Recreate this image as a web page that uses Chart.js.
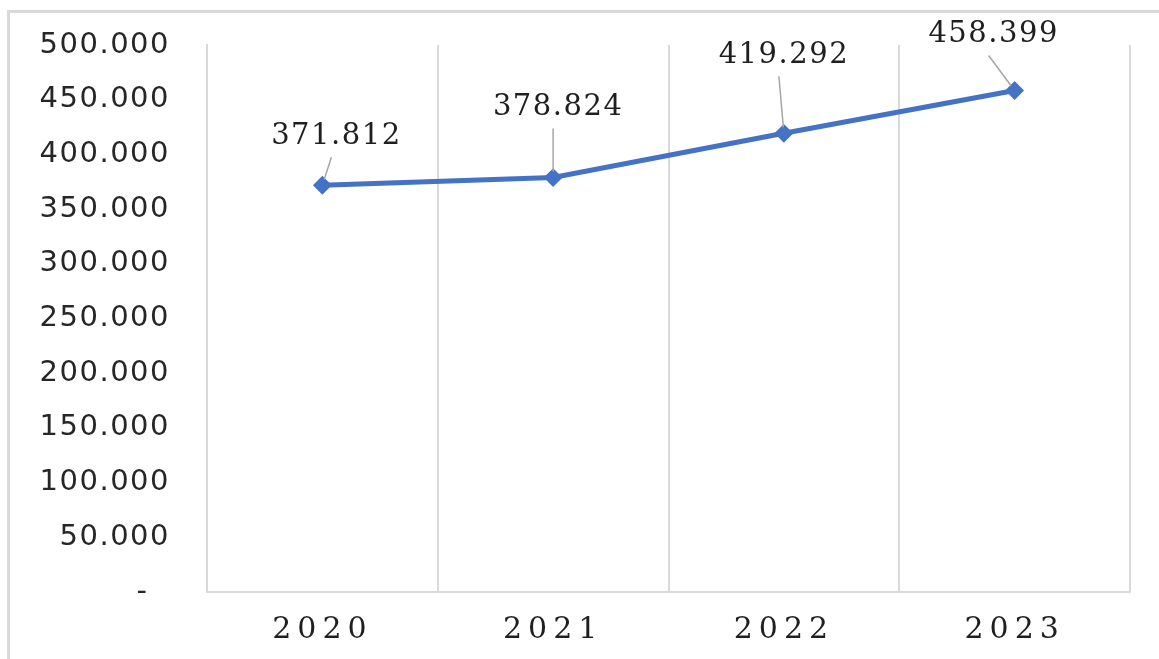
<!DOCTYPE html>
<html>
<head>
<meta charset="utf-8">
<script src="https://cdn.jsdelivr.net/npm/chart.js@4.4.0/dist/chart.umd.min.js"></script>
<style>
  html, body { margin: 0; padding: 0; background: #fff; overflow: hidden; }
  #wrap { position: relative; width: 1159px; height: 659px; }
  #frame { position: absolute; left: 7px; top: 10px; width: 1200px; height: 700px;
           border-left: 3px solid #d9d9d9; border-top: 3px solid #d9d9d9; }
  canvas { position: absolute; left: 0; top: 0; }
</style>
</head>
<body>
<div id="wrap">
  <div id="frame"></div>
  <canvas id="chart" width="1159" height="659"></canvas>
</div>
<script>
// Data for the chart
const years = ['2020', '2021', '2022', '2023'];
const values = [371812, 378824, 419292, 458399];
const yTicks = [0, 50000, 100000, 150000, 200000, 250000, 300000, 350000, 400000, 450000, 500000];

// where each data label sits, relative to its point (Excel moved them by hand)
const labelShift = [[14, -49], [5, -70], [0, -78], [-21, -56]];

// 371812 -> "371.812"
function fmt(v) {
  return String(v).replace(/\B(?=(\d{3})+(?!\d))/g, '.');
}

// spread the letters of the axis labels a bit
const spacingPlugin = {
  id: 'spacing',
  beforeDraw(chart) {
    [['x', '6px'], ['y', '1.5px']].forEach(([id, gap]) => {
      const s = chart.scales[id];
      if (s._spaced) return;
      const orig = s.drawLabels;
      s.drawLabels = function (area) {
        this.ctx.save();
        this.ctx.letterSpacing = gap;
        orig.call(this, area);
        this.ctx.restore();
      };
      s._spaced = true;
    });
  }
};

// value labels with their grey leader lines
const labelPlugin = {
  id: 'valueLabels',
  afterDatasetsDraw(chart) {
    const ctx = chart.ctx;
    const meta = chart.getDatasetMeta(0);
    ctx.save();
    meta.data.forEach((pt, i) => {
      const lx = pt.x + labelShift[i][0];
      const ly = pt.y + labelShift[i][1];
      // leader line
      const sx = lx - 5, sy = ly + 21;
      const dx = pt.x - sx, dy = pt.y - sy;
      const len = Math.sqrt(dx * dx + dy * dy);
      ctx.strokeStyle = '#a6a6a6';
      ctx.lineWidth = 1.5;
      ctx.beginPath();
      ctx.moveTo(sx, sy);
      ctx.lineTo(pt.x - dx / len * 6, pt.y - dy / len * 6);
      ctx.stroke();
      // text
      ctx.letterSpacing = '1.5px';
      ctx.font = '29px "DejaVu Serif"';
      ctx.fillStyle = '#1f1f1f';
      ctx.textAlign = 'center';
      ctx.textBaseline = 'middle';
      ctx.fillText(fmt(values[i]), lx, ly);
      ctx.letterSpacing = '0px';
    });
    ctx.restore();
  }
};

new Chart(document.getElementById('chart'), {
  type: 'line',
  data: {
    labels: years,
    datasets: [{
      data: values,
      borderColor: '#4472c4',
      backgroundColor: '#4472c4',
      borderWidth: 5,
      pointStyle: 'rectRot',
      pointRadius: 8,
      pointBorderWidth: 2,
      pointBorderColor: '#4472c4',
      pointBackgroundColor: '#4472c4',
      tension: 0,
      fill: false
    }]
  },
  options: {
    responsive: false,
    animation: false,
    layout: { padding: { top: 45, right: 29, left: 0, bottom: 0 } },
    plugins: {
      legend: { display: false },
      tooltip: { enabled: false }
    },
    scales: {
      x: {
        offset: true,
        grid: { offset: true, color: '#d9d9d9', lineWidth: 2, drawTicks: false },
        border: { display: true, color: '#d9d9d9', width: 2 },
        ticks: {
          color: '#1f1f1f',
          font: { family: '"DejaVu Serif"', size: 30 },
          padding: 20
        },
        afterFit(scale) {
          scale.height = 67;
          scale.paddingLeft = 0;
          scale.paddingRight = 0;
        }
      },
      y: {
        min: 0,
        max: 500000,
        afterBuildTicks(scale) { scale.ticks = yTicks.map(v => ({ value: v })); },
        grid: { display: false, drawTicks: false },
        border: { display: true, color: '#d9d9d9', width: 2 },
        ticks: {
          color: '#262626',
          font: { family: '"DejaVu Sans"', size: 29 },
          padding: 37,
          callback: v => v === 0 ? '-  ' : fmt(v)
        },
        afterFit(scale) {
          scale.width = 207;
          scale.paddingTop = 0;
          scale.paddingBottom = 0;
        }
      }
    }
  },
  plugins: [spacingPlugin, labelPlugin]
});
</script>
</body>
</html>
